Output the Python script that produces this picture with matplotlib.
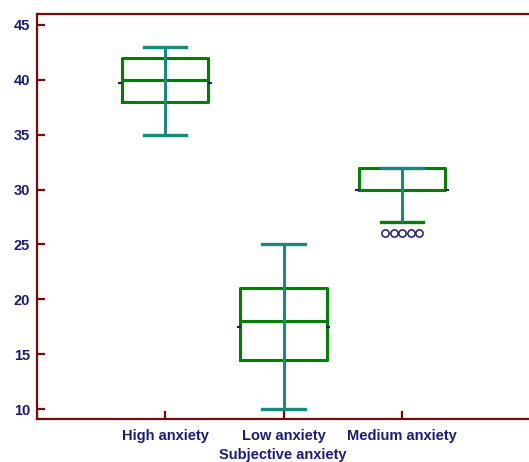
import matplotlib
matplotlib.use("Agg")
import matplotlib.pyplot as plt
import numpy as np
from matplotlib.transforms import offset_copy

categories = ["High anxiety", "Low anxiety", "Medium anxiety"]
q1 = [38, 14.5, 30]
median = [40, 18, 30]
q3 = [42, 21, 32]
whisker_low = [35, 10, 27]
whisker_high = [43, 25, 32]
means = [39.7, 17.5, 30.0]
outliers = [[], [], [26, 26, 26, 26, 26]]

BOX = "#008000"
WHISK = "#158a80"
SPINE = "#7a0a0a"
TEXT = "#1a1a80"

plt.rcParams["font.family"] = ["Liberation Sans", "DejaVu Sans"]

fig = plt.figure(figsize=(5.29, 4.62), dpi=100)
ax = fig.add_axes([37/529, 1-419/462, 1-37/529, (419-14)/462])

pos = np.arange(len(categories))
stats = []
for i in range(len(categories)):
    stats.append(dict(med=median[i], q1=q1[i], q3=q3[i],
                      whislo=whisker_low[i], whishi=whisker_high[i],
                      fliers=[], label=categories[i]))

bw = 0.73
ax.vlines(pos, whisker_low, whisker_high, color=WHISK, lw=2.0, zorder=3)
res = ax.bxp(stats, positions=pos, widths=bw, showfliers=False,
             boxprops=dict(color=BOX, lw=2.2),
             medianprops=dict(color=BOX, lw=2.2),
             whiskerprops=dict(color=WHISK, lw=2.0),
             capprops=dict(color=WHISK, lw=2.4),
             capwidths=0.36, manage_ticks=False)
# lower cap of the third box is green in the original
res["caps"][4].set_color(BOX)
ax.vlines(pos, q1, q3, color=WHISK, lw=2.0, zorder=4)

# mean markers at box sides
for i in range(len(categories)):
    ax.plot([pos[i] - bw/2 - 0.012, pos[i] + bw/2 + 0.012], [means[i], means[i]],
            ls="none", marker="_", ms=3, mew=1.5, color=TEXT, zorder=5)

# outliers spread horizontally
for i, vals in enumerate(outliers):
    n = len(vals)
    for k, v in enumerate(vals):
        dx = (k - (n - 1) / 2) * 8.6 * 72 / 100
        tr = offset_copy(ax.transData, fig=fig, x=dx, y=0, units="points")
        ax.plot([pos[i]], [v], marker="o", ms=5.2, mfc="white", mec=TEXT,
                mew=1.1, ls="none", transform=tr, zorder=6)

ax.set_xlim(-1.08, 3.07)
ax.set_ylim(9.09, 46.0)
ax.set_yticks([10, 15, 20, 25, 30, 35, 40, 45])
ax.set_xticks(pos)
ax.set_xticklabels(categories)

for s in ["left", "bottom", "top"]:
    ax.spines[s].set_color(SPINE)
    ax.spines[s].set_linewidth(1.6)
ax.spines["right"].set_visible(False)

ax.tick_params(axis="both", direction="in", color=SPINE, width=1.6, length=6,
               labelcolor=TEXT, labelsize=10.5)
ax.tick_params(axis="y", pad=5)
ax.tick_params(axis="x", pad=7)
for lab in ax.get_xticklabels() + ax.get_yticklabels():
    lab.set_fontweight("bold")

ax.set_xlabel("Subjective anxiety", color=TEXT, fontsize=10.5, fontweight="bold", labelpad=4)

fig.savefig("out.png", dpi=100)
